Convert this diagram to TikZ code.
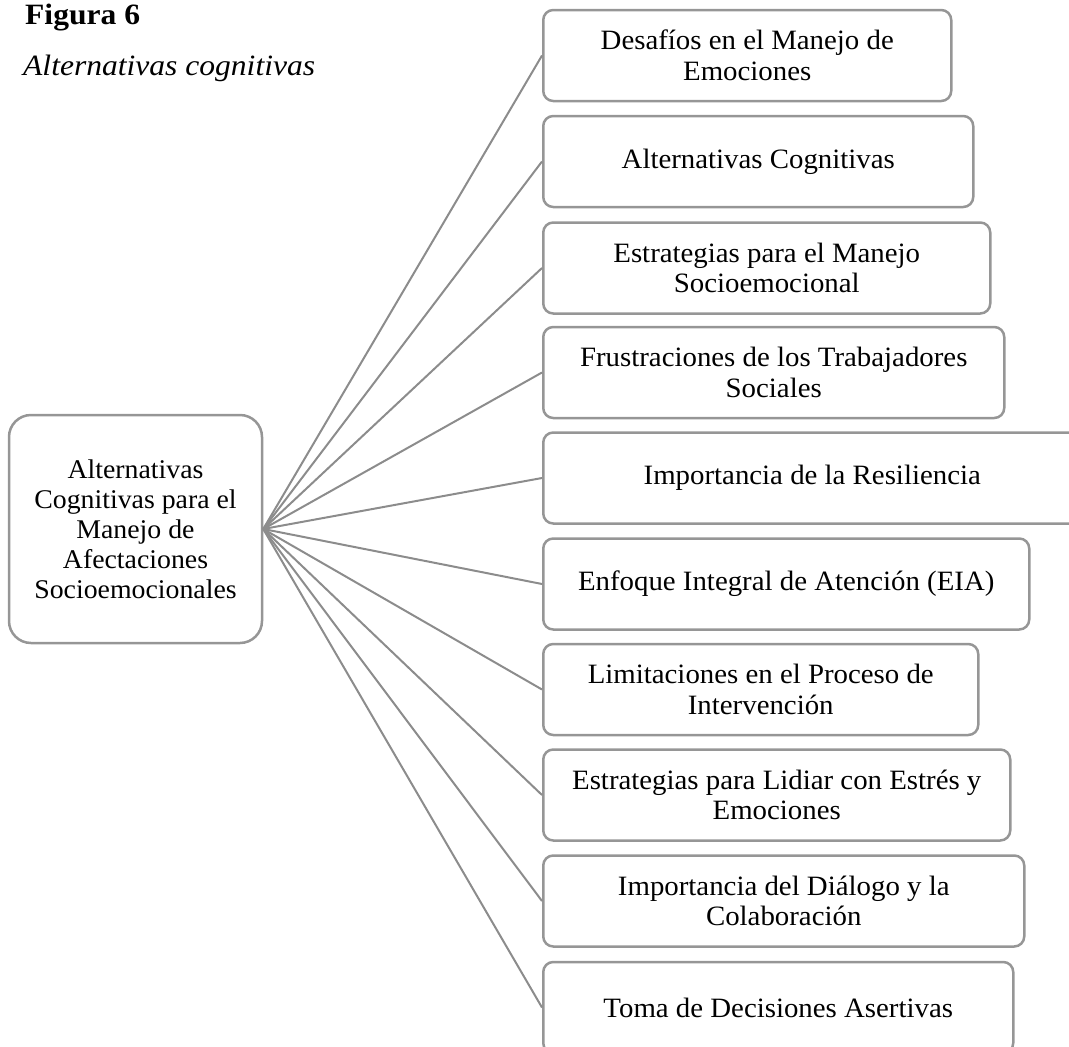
\documentclass[tikz,border=0pt]{standalone}
\usepackage{fontspec}
\setmainfont[FakeStretch=1.03]{Liberation Serif}
\newfontfamily\titulofont[FakeStretch=1.07]{Liberation Serif}
\definecolor{bordegris}{RGB}{150,150,150}
\definecolor{lineagris}{RGB}{140,140,140}

\begin{document}
\begin{tikzpicture}[x=1pt,y=-1pt,
  tema/.style={draw=bordegris, line width=2.5pt, rounded corners=10pt, align=center,
    font=\fontsize{28}{30.5}\selectfont, inner sep=0pt, anchor=west, minimum height=91pt},
  conector/.style={draw=lineagris, line width=2pt}]
\useasboundingbox (0,0) rectangle (1069,1047);

%% titulo
\node[anchor=base west, inner sep=0pt, font=\fontsize{29.5}{30}\titulofont\bfseries] (titulo) at (25,24) {Figura 6};
\node[anchor=base west, inner sep=0pt, font=\fontsize{29.5}{30}\titulofont\itshape] (subtitulo) at (23,75) {Alternativas cognitivas};

%% nodo central
\node[draw=bordegris, line width=2.5pt, rounded corners=22pt, align=center,
  font=\fontsize{27}{30}\selectfont, inner sep=0pt,
  minimum width=253pt, minimum height=228pt] (centro) at (135.5,529)
  {Alternativas\\Cognitivas para el\\Manejo de\\Afectaciones\\Socioemocionales};

%% temas
\node[tema, minimum width=408pt] (t1) at (542,55.5) {Desafíos en el Manejo de\\Emociones};
\node[tema, minimum width=430pt] (t2) at (542,161.5) {Alternativas Cognitivas};
\node[tema, minimum width=447pt] (t3) at (542,268) {Estrategias para el Manejo\\Socioemocional};
\node[tema, minimum width=461pt] (t4) at (542,372.5) {Frustraciones de los Trabajadores\\Sociales};
\node[tema, minimum width=538pt] (t5) at (542,478) {Importancia de la Resiliencia};
\node[tema, minimum width=486pt] (t6) at (542,584) {Enfoque Integral de Atención (EIA)};
\node[tema, minimum width=435pt] (t7) at (542,689.5) {Limitaciones en el Proceso de\\Intervención};
\node[tema, minimum width=467pt] (t8) at (542,795) {Estrategias para Lidiar con Estrés y\\Emociones};
\node[tema, minimum width=481pt] (t9) at (542,901) {Importancia del Diálogo y la\\Colaboración};
\node[tema, minimum width=470pt] (t10) at (542,1007.5) {Toma de Decisiones Asertivas};

%% lineas
\foreach \i in {1,...,10}
  \draw[conector] (centro.east) -- (t\i.west);

\end{tikzpicture}
\end{document}
